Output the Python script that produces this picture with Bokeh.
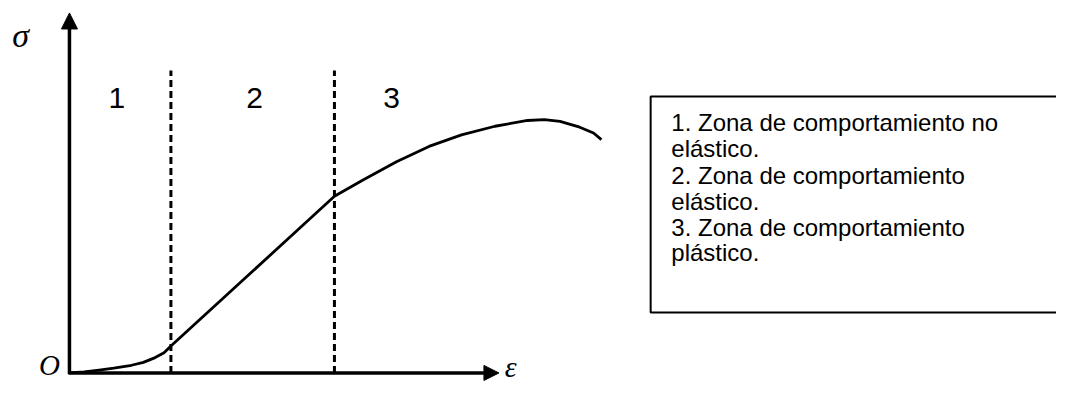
from bokeh.plotting import figure
from bokeh.models import Range1d, Arrow, NormalHead, ColumnDataSource
from bokeh.embed import file_html
from bokeh.resources import INLINE
from bokeh.core.properties import value

# ---- data (strain / stress in drawing units, origin at O) ----
eps_curve = [0, 15, 30, 45, 63, 75, 87, 96, 103,
             269, 298, 332, 365, 398, 432, 465, 482, 498, 518, 532, 540]
sig_curve = [0, 1, 3, 5, 8, 11, 16, 21, 28,
             184, 201, 220, 236, 248, 257, 263, 264, 262, 256, 250, 243]

zone_bounds = [103, 269]
zone_top = 315
zone_labels = ["1", "2", "3"]
zone_label_eps = [48, 188, 327]
zone_label_sig = [286, 286, 286]

eps_axis_end = 436
sig_axis_end = 375

legend_lines = [
    "1. Zona de comportamiento no",
    "elástico.",
    "2. Zona de comportamiento",
    "elástico.",
    "3. Zona de comportamiento",
    "plástico.",
]
legend_sig = [261, 234, 206, 179, 152, 125]
legend_eps = 611
box_left, box_right, box_bottom, box_top = 590, 1012, 63, 288

symbol_text = ["σ", "O", "ε"]
symbol_eps = [-58, -31, 442]
symbol_sig = [352, 8, 7]

# ---- figure ----
p = figure(width=1056, height=383, output_backend="svg", toolbar_location=None,
           x_range=Range1d(-70, 1002), y_range=Range1d(-11, 388),
           min_border=0, background_fill_color="white", border_fill_color="white")
p.axis.visible = False
p.grid.visible = False
p.outline_line_color = None

# legend box
p.quad(left=[box_left], right=[box_right], bottom=[box_bottom], top=[box_top],
       fill_color=None, line_color="black", line_width=2)

# zone boundaries
p.segment(x0=zone_bounds, y0=[0] * len(zone_bounds), x1=zone_bounds,
          y1=[zone_top] * len(zone_bounds), line_color="black", line_width=3,
          line_dash="7 4")

# curve
p.line(eps_curve, sig_curve, line_color="black", line_width=2.8)

# axes with arrows
p.add_layout(Arrow(end=NormalHead(size=16, fill_color="black", line_color="black", line_width=1),
                   x_start=0, y_start=-1, x_end=0, y_end=sig_axis_end,
                   line_color="black", line_width=3.5))
p.add_layout(Arrow(end=NormalHead(size=15, fill_color="black", line_color="black", line_width=1),
                   x_start=-1, y_start=0, x_end=eps_axis_end, y_end=0,
                   line_color="black", line_width=3.5))

# zone numbers
src = ColumnDataSource(dict(x=zone_label_eps, y=zone_label_sig, t=zone_labels))
p.text(x="x", y="y", text="t", source=src, text_align="center",
       text_baseline="alphabetic", text_font=value("Liberation Sans"),
       text_font_size="30px", text_color="black")

# legend text
src2 = ColumnDataSource(dict(x=[legend_eps] * len(legend_lines), y=legend_sig, t=legend_lines))
p.text(x="x", y="y", text="t", source=src2, text_align="left",
       text_baseline="alphabetic", text_font=value("Liberation Sans"),
       text_font_size="24px", text_color="black")

# axis symbols
src3 = ColumnDataSource(dict(x=symbol_eps, y=symbol_sig, t=symbol_text,
                             s=["34px", "29px", "30px"]))
p.text(x="x", y="y", text="t", source=src3, text_align="left",
       text_baseline="alphabetic", text_font=value("Liberation Serif"),
       text_font_style="italic", text_font_size="s", text_color="black")

open("out.html", "w").write(file_html(p, INLINE))
